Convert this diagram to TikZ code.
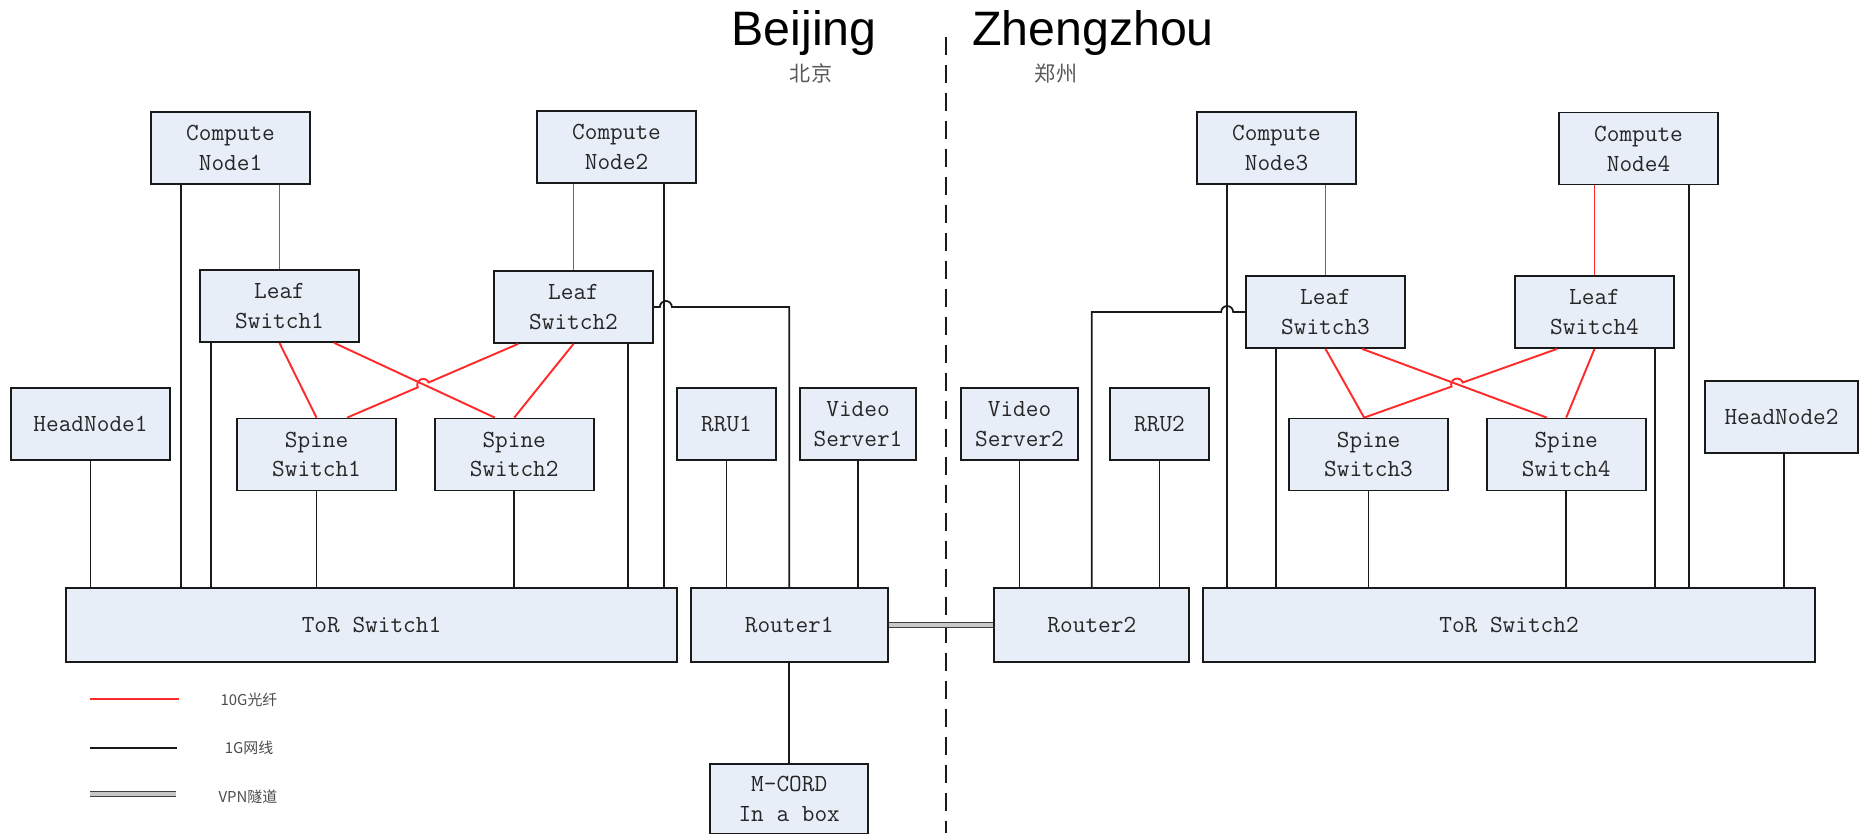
\documentclass[tikz,border=0pt]{standalone}
\usepackage{fontspec}
\usepackage{xcolor}
\usepackage{tikz}
\usetikzlibrary{positioning,calc}
\newfontfamily\headfont{Liberation Sans}
\newfontfamily\cjkfont{Noto Sans CJK SC}
\definecolor{boxfill}{HTML}{E8EEF8}
\definecolor{fibre}{HTML}{FF2A2A}
\definecolor{edge}{HTML}{1A1A1A}
\tikzset{
  box/.style={rectangle, draw=edge, fill=boxfill, line width=1pt,
              minimum width=3.18cm, minimum height=1.44cm, inner sep=1pt,
              font=\ttfamily\fontsize{14}{17}\selectfont, text=black!85, align=center},
  wire/.style={draw=edge, line width=1pt},
  fiber/.style={draw=fibre, line width=1.1pt},
  vpn/.style={draw=black!75, double=black!22, double distance=2pt, line width=0.8pt},
  divider/.style={draw=edge, line width=1pt, dash pattern=on 0.36cm off 0.2cm},
  city/.style={font=\headfont\fontsize{27.5}{30}\selectfont},
  cityzh/.style={font=\cjkfont\fontsize{12}{14}\selectfont, text=black!65},
  legtext/.style={font=\cjkfont\fontsize{8.5}{10}\selectfont, text=black!70},
}
\begin{document}
\begin{tikzpicture}[x=0.02cm, y=-0.02cm]
    \useasboundingbox (0,0) rectangle (1860,833);

    %% --- titles ---
    \node[city, anchor=base] (bj_title) at (804,45) {Beijing};
    \node[cityzh] (bj_zh) at (811,73) {北京};
    \node[city, anchor=base] (zz_title) at (1093,45) {Zhengzhou};
    \node[cityzh] (zz_zh) at (1056,74) {郑州};
    \draw[divider] (946,37) -- (946,833);

    %% --- Beijing ---
    \node[box] (bj_cn1) at (230.5,148) {Compute\\Node1};
    \node[box] (bj_cn2) at (616.5,147) {Compute\\Node2};
    \node[box] (bj_leaf1) at (279.5,306) {Leaf\\Switch1};
    \node[box] (bj_leaf2) at (573.5,307) {Leaf\\Switch2};
    \node[box] (bj_spine1) at (316.5,454.5) {Spine\\Switch1};
    \node[box, right=0.74cm of bj_spine1] (bj_spine2) {Spine\\Switch2};
    \node[box] (bj_head) at (90.5,424) {HeadNode1};
    \node[box, minimum width=12.22cm, minimum height=1.48cm] (bj_tor) at (371.5,625) {ToR Switch1};
    \node[box, minimum width=3.94cm, minimum height=1.48cm, right=0.24cm of bj_tor] (bj_router) {Router1};
    \node[box, minimum width=1.98cm] (bj_rru) at (726.5,424) {RRU1};
    \node[box, minimum width=2.32cm] (bj_video) at (858,424) {Video\\Server1};
    \node[box, minimum width=3.16cm, minimum height=1.4cm, below=2cm of bj_router] (bj_mcord) {M-CORD\\In a box};

    \draw[wire] (bj_head.south) -- (bj_head.south |- bj_tor.north);
    \draw[wire] (bj_cn1.south west) ++(31,0) coordinate (p) -- (p |- bj_tor.north);
    \draw[wire] (bj_leaf1.south west) ++(12,0) coordinate (p) -- (p |- bj_tor.north);
    \draw[wire] (bj_spine1.south) -- (bj_spine1.south |- bj_tor.north);
    \draw[wire] (bj_spine2.south) -- (bj_spine2.south |- bj_tor.north);
    \draw[wire] (bj_leaf2.south west) ++(135,0) coordinate (p) -- (p |- bj_tor.north);
    \draw[wire] (bj_cn2.south west) ++(128,0) coordinate (p) -- (p |- bj_tor.north);
    \draw[wire] (bj_rru.south) -- (bj_rru.south |- bj_router.north);
    \draw[wire] (bj_video.south) -- (bj_video.south |- bj_router.north);
    \draw[wire] (bj_leaf2.east) -- ++(6,0) arc[start angle=180, end angle=0, radius=0.12cm]
        -- (bj_router.north |- bj_leaf2.east) -- (bj_router.north);
    \draw[wire] (bj_router.south) -- (bj_mcord.north);

    \draw[fiber] (bj_leaf1.north |- bj_cn1.south) -- (bj_leaf1.north);
    \draw[fiber] (bj_leaf2.north |- bj_cn2.south) -- (bj_leaf2.north);
    \draw[fiber] (bj_leaf1.south) -- (bj_spine1.north);
    \draw[fiber] (bj_leaf1.south west) ++(135,0) coordinate (p)
        (bj_spine2.north west) ++(61,0) coordinate (q) (p) -- (q);
    \draw[fiber] (bj_leaf2.south west) ++(25,0) coordinate (p)
        (bj_spine1.north west) ++(111,0) coordinate (q)
        (p) -- ($(p)!0.523!(q)$) arc[start angle=24, end angle=204, radius=0.12cm] -- (q);
    \draw[fiber] (bj_leaf2.south) -- (bj_spine2.north);

    %% --- Zhengzhou ---
    \node[box] (zz_cn3) at (1276.5,148) {Compute\\Node3};
    \node[box] (zz_cn4) at (1638.5,148.5) {Compute\\Node4};
    \node[box] (zz_leaf3) at (1325.5,312) {Leaf\\Switch3};
    \node[box] (zz_leaf4) at (1594.5,312) {Leaf\\Switch4};
    \node[box] (zz_spine3) at (1368.5,454.5) {Spine\\Switch3};
    \node[box, right=0.74cm of zz_spine3] (zz_spine4) {Spine\\Switch4};
    \node[box, minimum width=3.06cm] (zz_head) at (1781.5,417) {HeadNode2};
    \node[box, minimum width=12.24cm, minimum height=1.48cm] (zz_tor) at (1509,625) {ToR Switch2};
    \node[box, minimum width=3.9cm, minimum height=1.48cm, left=0.24cm of zz_tor] (zz_router) {Router2};
    \node[box, minimum width=2.34cm] (zz_video) at (1019.5,424) {Video\\Server2};
    \node[box, minimum width=1.98cm] (zz_rru) at (1159.5,424) {RRU2};

    \draw[wire] (zz_video.south) -- (zz_video.south |- zz_router.north);
    \draw[wire] (zz_rru.south) -- (zz_rru.south |- zz_router.north);
    \draw[wire] (zz_leaf3.west) -- ++(-12,0) arc[start angle=0, end angle=180, radius=0.12cm]
        -- (zz_router.north |- zz_leaf3.west) -- (zz_router.north);
    \draw[wire] (zz_cn3.south west) ++(31,0) coordinate (p) -- (p |- zz_tor.north);
    \draw[wire] (zz_leaf3.south west) ++(31,0) coordinate (p) -- (p |- zz_tor.north);
    \draw[wire] (zz_spine3.south) -- (zz_spine3.south |- zz_tor.north);
    \draw[wire] (zz_spine4.south) -- (zz_spine4.south |- zz_tor.north);
    \draw[wire] (zz_leaf4.south west) ++(141,0) coordinate (p) -- (p |- zz_tor.north);
    \draw[wire] (zz_cn4.south west) ++(131,0) coordinate (p) -- (p |- zz_tor.north);
    \draw[wire] (zz_head.south west) ++(80,0) coordinate (p) -- (p |- zz_tor.north);

    \draw[fiber] (zz_leaf3.north |- zz_cn3.south) -- (zz_leaf3.north);
    \draw[fiber] (zz_leaf4.north |- zz_cn4.south) -- (zz_leaf4.north);
    \draw[fiber] (zz_spine3.north west) ++(76,0) coordinate (q) (zz_leaf3.south) -- (q);
    \draw[fiber] (zz_leaf3.south west) ++(117,0) coordinate (p)
        (zz_spine4.north west) ++(61,0) coordinate (q) (p) -- (q);
    \draw[fiber] (zz_leaf4.south west) ++(43,0) coordinate (p)
        (zz_spine3.north west) ++(76,0) coordinate (q)
        (p) -- ($(p)!0.489!(q)$) arc[start angle=20, end angle=200, radius=0.12cm] -- (q);
    \draw[fiber] (zz_leaf4.south) -- (zz_spine4.north);

    %% --- VPN tunnel ---
    \draw[vpn] (bj_router.east) -- (zz_router.west);

    %% --- legend ---
    \coordinate (lg_a) at (90,699);
    \coordinate (lg_b) at (90,748);
    \coordinate (lg_c) at (90,794);
    \draw[fiber, line width=1.4pt] (lg_a) -- ++(89,0);
    \draw[wire, line width=1.3pt] (lg_b) -- ++(87,0);
    \draw[vpn] (lg_c) -- ++(86,0);
    \node[legtext] (lg_fiber) at (249,700) {10G光纤};
    \node[legtext] (lg_cable) at (249,748) {1G网线};
    \node[legtext] (lg_vpn) at (248,797) {VPN隧道};
  \end{tikzpicture}
\end{document}
